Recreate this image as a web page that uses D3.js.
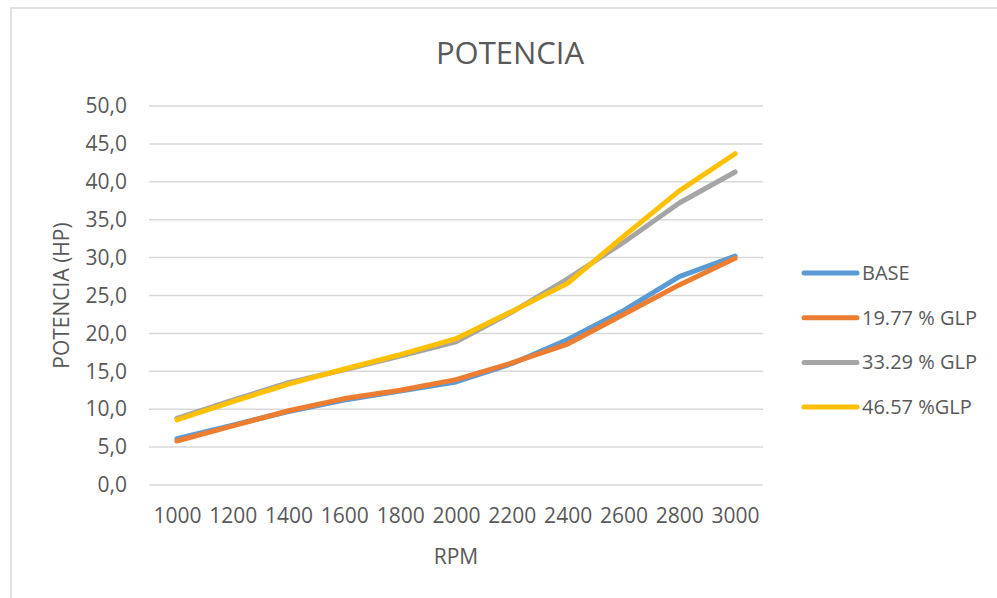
<!DOCTYPE html>
<html>
<head>
<meta charset="utf-8">
<script src="https://cdn.jsdelivr.net/npm/d3@7"></script>
<style>
  html, body { margin: 0; padding: 0; background: #fff; }
  svg { display: block; }
  text { font-family: "Open Sans", "Noto Sans", sans-serif; fill: #595959; }
</style>
</head>
<body>
<svg id="chart" width="997" height="598"></svg>
<script>
// Engine speed (RPM) categories
const rpm = ["1000", "1200", "1400", "1600", "1800", "2000", "2200", "2400", "2600", "2800", "3000"];

// Power output (HP) for each fuel mixture
const base    = [6.1, 7.9, 9.7, 11.2, 12.4, 13.6, 16.0, 19.2, 23.0, 27.5, 30.2];
const glp1977 = [5.8, 7.8, 9.8, 11.4, 12.5, 13.9, 16.1, 18.6, 22.5, 26.4, 29.9];
const glp3329 = [8.8, 11.2, 13.5, 15.2, 17.0, 18.9, 22.8, 27.2, 32.0, 37.2, 41.3];
const glp4657 = [8.6, 11.0, 13.3, 15.3, 17.2, 19.3, 22.9, 26.6, 32.8, 38.8, 43.7];

const seriesNames = ["BASE", "19.77 % GLP", "33.29 % GLP", "46.57 %GLP"];
const seriesColors = ["#5B9BD5", "#ED7D31", "#A5A5A5", "#FFC000"];
const yTicks = [0, 5, 10, 15, 20, 25, 30, 35, 40, 45, 50];

const series = [base, glp1977, glp3329, glp4657].map((values, i) => ({
  name: seriesNames[i], color: seriesColors[i], values
}));

const svg = d3.select("#chart");

// Chart frame
svg.append("rect")
  .attr("x", 11).attr("y", 8)
  .attr("width", 1000).attr("height", 600)
  .attr("fill", "#fff")
  .attr("stroke", "#D9D9D9").attr("stroke-width", 1.5);

const plot = { left: 149, right: 763, top: 106, bottom: 485 };

const x = d3.scalePoint()
  .domain(rpm)
  .range([plot.left, plot.right])
  .padding(0.5);

const y = d3.scaleLinear()
  .domain([0, 50])
  .range([plot.bottom, plot.top]);

// Horizontal gridlines
svg.append("g")
  .selectAll("line")
  .data(yTicks)
  .join("line")
  .attr("x1", plot.left).attr("x2", plot.right)
  .attr("y1", d => y(d)).attr("y2", d => y(d))
  .attr("stroke", "#D9D9D9").attr("stroke-width", 1.5);

// Y axis labels
const fmt = d => d.toFixed(1).replace(".", ",");
const yAxis = d3.axisLeft(y).tickValues(yTicks).tickFormat(fmt).tickSize(0).tickPadding(0);
const gy = svg.append("g").attr("transform", `translate(127,0)`).call(yAxis);
gy.select(".domain").remove();
gy.selectAll("text")
  .attr("font-size", 21)
  .attr("font-family", "'Open Sans', sans-serif")
  .attr("fill", "#595959");

// X axis labels
const xAxis = d3.axisBottom(x).tickSize(0).tickPadding(0);
const gx = svg.append("g").attr("transform", `translate(0,${plot.bottom + 23})`).call(xAxis);
gx.select(".domain").remove();
gx.selectAll("text")
  .attr("font-size", 21)
  .attr("font-family", "'Open Sans', sans-serif")
  .attr("fill", "#595959");

// Series lines
const line = d3.line()
  .x((d, i) => x(rpm[i]))
  .y(d => y(d));

svg.append("g")
  .selectAll("path")
  .data(series)
  .join("path")
  .attr("d", d => line(d.values))
  .attr("fill", "none")
  .attr("stroke", d => d.color)
  .attr("stroke-width", 5)
  .attr("stroke-linecap", "round")
  .attr("stroke-linejoin", "round");

// Title
svg.append("text")
  .attr("x", 510).attr("y", 64)
  .attr("text-anchor", "middle")
  .attr("font-size", 31)
  .text("POTENCIA");

// Axis titles
svg.append("text")
  .attr("x", (plot.left + plot.right) / 2).attr("y", 564)
  .attr("text-anchor", "middle")
  .attr("font-size", 21)
  .text("RPM");

svg.append("text")
  .attr("transform", `translate(69,${(plot.top + plot.bottom) / 2}) rotate(-90)`)
  .attr("text-anchor", "middle")
  .attr("font-size", 21)
  .text("POTENCIA (HP)");

// Legend
const legend = svg.append("g")
  .selectAll("g")
  .data(series)
  .join("g")
  .attr("transform", (d, i) => `translate(0,${273 + i * 44.7})`);

legend.append("line")
  .attr("x1", 804).attr("x2", 857)
  .attr("y1", 0).attr("y2", 0)
  .attr("stroke", d => d.color)
  .attr("stroke-width", 5)
  .attr("stroke-linecap", "round");

legend.append("text")
  .attr("x", 862).attr("y", 7)
  .attr("font-size", 20)
  .text(d => d.name);
</script>
</body>
</html>
